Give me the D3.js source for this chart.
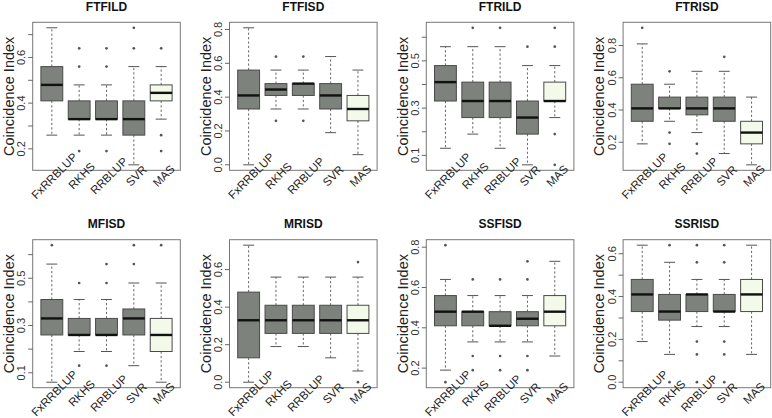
<!DOCTYPE html>
<html><head><meta charset="utf-8">
<script src="https://cdn.jsdelivr.net/npm/d3@7"></script>
<style>body{margin:0;background:#fff} svg{display:block}</style>
</head><body>
<script>
const methods = ["FxRRBLUP","RKHS","RRBLUP","SVR","MAS"];
const traits = ["FTFILD","FTFISD","FTRILD","FTRISD","MFISD","MRISD","SSFISD","SSRISD"];

// per method: [lower whisker, Q1, median, Q3, upper whisker]
const statsFTFILD = [[0.26,0.41,0.48,0.56,0.73],[0.26,0.33,0.33,0.41,0.48],[0.26,0.33,0.33,0.41,0.48],[0.13,0.26,0.33,0.41,0.56],[0.33,0.41,0.445,0.48,0.56]];
const outFTFILD   = [[],[0.19,0.56,0.64],[0.19,0.56,0.64],[0.64,0.73],[0.19,0.26,0.64]];
const statsFTFISD = [[0,0.33,0.41,0.56,0.81],[0.33,0.41,0.445,0.48,0.56],[0.33,0.41,0.48,0.48,0.56],[0.19,0.33,0.41,0.48,0.64],[0.06,0.26,0.33,0.41,0.56]];
const outFTFISD   = [[],[0.26,0.64],[0.26,0.64],[],[]];
const statsFTRILD = [[0.13,0.33,0.41,0.48,0.56],[0.19,0.26,0.33,0.41,0.56],[0.13,0.26,0.33,0.41,0.56],[0.06,0.19,0.26,0.33,0.48],[0.26,0.33,0.33,0.41,0.48]];
const outFTRILD   = [[],[0.64],[0.64],[0.56],[0.06,0.19,0.56,0.64]];
const statsFTRISD = [[0.19,0.33,0.41,0.56,0.81],[0.33,0.41,0.41,0.48,0.56],[0.26,0.37,0.41,0.48,0.64],[0.13,0.33,0.41,0.48,0.64],[0.06,0.19,0.26,0.33,0.48]];
const outFTRISD   = [[0.91],[0.19,0.26,0.64],[0.13,0.19],[0.73],[]];
const statsMFISD  = [[0.06,0.26,0.33,0.41,0.56],[0.19,0.26,0.26,0.33,0.41],[0.19,0.26,0.26,0.33,0.41],[0.13,0.26,0.33,0.37,0.48],[0.06,0.19,0.26,0.33,0.48]];
const outMFISD    = [[0.64],[0.13,0.48],[0.13,0.48,0.56],[0.56,0.64],[0.64]];
const statsMRISD  = [[0,0.13,0.33,0.48,0.73],[0.19,0.26,0.33,0.41,0.56],[0.19,0.26,0.33,0.41,0.56],[0.13,0.26,0.33,0.41,0.56],[0.06,0.26,0.33,0.41,0.56]];
const outMRISD    = [[],[],[],[],[0,0.64]];
const statsSSFISD = [[0.19,0.41,0.48,0.56,0.64],[0.33,0.41,0.48,0.48,0.56],[0.33,0.41,0.41,0.48,0.56],[0.33,0.41,0.445,0.48,0.56],[0.26,0.41,0.48,0.56,0.73]];
const outSSFISD   = [[0.13,0.81],[0.19,0.26,0.64],[0.19,0.26,0.64],[0.19,0.26,0.64,0.73],[]];
const statsSSRISD = [[0.19,0.33,0.41,0.48,0.64],[0.13,0.29,0.33,0.41,0.56],[0.26,0.33,0.41,0.41,0.48],[0.26,0.33,0.33,0.41,0.48],[0.13,0.33,0.41,0.48,0.64]];
const outSSRISD   = [[],[0,0.64],[0,0.13,0.19,0.56,0.64],[0,0.13,0.19,0.56,0.64],[]];

// y ticks and which ones carry labels
const ticksFTFILD = [0.2,0.3,0.4,0.5,0.6,0.7], labelsFTFILD = [0.2,0.4,0.6];
const ticksFTFISD = [0,0.2,0.4,0.6,0.8],       labelsFTFISD = [0,0.2,0.4,0.6,0.8];
const ticksFTRILD = [0.1,0.2,0.3,0.4,0.5,0.6], labelsFTRILD = [0.1,0.3,0.5];
const ticksFTRISD = [0.2,0.4,0.6,0.8],         labelsFTRISD = [0.2,0.4,0.6,0.8];
const ticksMFISD  = [0.1,0.2,0.3,0.4,0.5,0.6], labelsMFISD  = [0.1,0.3,0.5];
const ticksMRISD  = [0,0.2,0.4,0.6],           labelsMRISD  = [0,0.2,0.4,0.6];
const ticksSSFISD = [0.2,0.4,0.6,0.8],         labelsSSFISD = [0.2,0.4,0.6,0.8];
const ticksSSRISD = [0,0.1,0.2,0.3,0.4,0.5,0.6], labelsSSRISD = [0,0.2,0.4,0.6];

const panels = [
  [statsFTFILD,outFTFILD,ticksFTFILD,labelsFTFILD],
  [statsFTFISD,outFTFISD,ticksFTFISD,labelsFTFISD],
  [statsFTRILD,outFTRILD,ticksFTRILD,labelsFTRILD],
  [statsFTRISD,outFTRISD,ticksFTRISD,labelsFTRISD],
  [statsMFISD,outMFISD,ticksMFISD,labelsMFISD],
  [statsMRISD,outMRISD,ticksMRISD,labelsMRISD],
  [statsSSFISD,outSSFISD,ticksSSFISD,labelsSSFISD],
  [statsSSRISD,outSSRISD,ticksSSRISD,labelsSSRISD]
].map((p,i)=>({title:traits[i],stats:p[0],out:p[1],ticks:p[2],labels:p[3]}));

const W = 772, H = 418;
const colLeft = [32.7, 229.5, 426.3, 623.1];
const rowTop = [22.3, 239.7];
const pw = 147.6, ph = 148.0;
const FONT = "'Liberation Sans', Arial, Helvetica, sans-serif";
const darkFill = "#7d827c", masFill = "#f3faea";

const svg = d3.select("body").append("svg").attr("width",W).attr("height",H);

panels.forEach((p,i)=>{
  const left = colLeft[i%4], top = rowTop[Math.floor(i/4)];
  const g = svg.append("g").attr("transform",`translate(${left},${top})`);
  const x = d3.scaleLinear().domain([0.3,5.7]).range([0,pw]);
  const allVals = p.stats.flat().concat(p.out.flat());
  const [mn,mx] = d3.extent(allVals);
  const r = mx-mn;
  const y = d3.scaleLinear().domain([mn-0.04*r, mx+0.04*r]).range([ph,0]);
  const bw = x(0.8)-x(0);

  p.stats.forEach((s,j)=>{
    const cx = x(j+1);
    const col = j===4 ? masFill : darkFill;
    g.append("line").attr("x1",cx).attr("x2",cx).attr("y1",y(s[3])).attr("y2",y(s[4]))
      .attr("stroke","#555").attr("stroke-width",0.9).attr("stroke-dasharray","2.2,2.2");
    g.append("line").attr("x1",cx).attr("x2",cx).attr("y1",y(s[1])).attr("y2",y(s[0]))
      .attr("stroke","#555").attr("stroke-width",0.9).attr("stroke-dasharray","2.2,2.2");
    [s[0],s[4]].forEach(v=>{
      g.append("line").attr("x1",cx-bw/4).attr("x2",cx+bw/4).attr("y1",y(v)).attr("y2",y(v))
        .attr("stroke","#555").attr("stroke-width",1);
    });
    g.append("rect").attr("x",cx-bw/2).attr("y",y(s[3])).attr("width",bw)
      .attr("height",Math.max(0.5,y(s[1])-y(s[3])))
      .attr("fill",col).attr("stroke","#4a4a4a").attr("stroke-width",1);
    g.append("line").attr("x1",cx-bw/2).attr("x2",cx+bw/2).attr("y1",y(s[2])).attr("y2",y(s[2]))
      .attr("stroke","#111").attr("stroke-width",2.4);
    p.out[j].forEach(v=>{
      g.append("circle").attr("cx",cx).attr("cy",y(v)).attr("r",1.35).attr("fill","#555");
    });
  });

  g.append("rect").attr("x",0).attr("y",0).attr("width",pw).attr("height",ph)
    .attr("fill","none").attr("stroke","#777").attr("stroke-width",1);

  p.ticks.forEach(t=>{
    g.append("line").attr("x1",-4.5).attr("x2",0).attr("y1",y(t)).attr("y2",y(t))
      .attr("stroke","#666").attr("stroke-width",1);
  });
  p.labels.forEach(t=>{
    g.append("text").attr("transform",`translate(${-7.5},${y(t)}) rotate(-90)`)
      .attr("text-anchor","middle").attr("font-family",FONT).attr("font-size",11)
      .attr("fill","#333").text(d3.format(".1f")(t));
  });

  g.append("text").attr("transform",`translate(${-18.7},${ph/2}) rotate(-90)`)
    .attr("text-anchor","middle").attr("font-family",FONT).attr("font-size",14.5)
    .attr("fill","#222").text("Coincidence Index");

  methods.forEach((m,j)=>{
    g.append("text").attr("transform",`translate(${x(j+1)+2.5},${ph+5.5}) rotate(-45)`)
      .attr("text-anchor","middle").attr("dominant-baseline","central")
      .attr("font-family",FONT).attr("font-size",11.5).attr("fill","#222").text(m);
  });

  g.append("text").attr("x",pw/2).attr("y",-11.8).attr("text-anchor","middle")
    .attr("font-family",FONT).attr("font-size",12).attr("font-weight","bold")
    .attr("fill","#111").text(p.title);
});
</script>
</body></html>
